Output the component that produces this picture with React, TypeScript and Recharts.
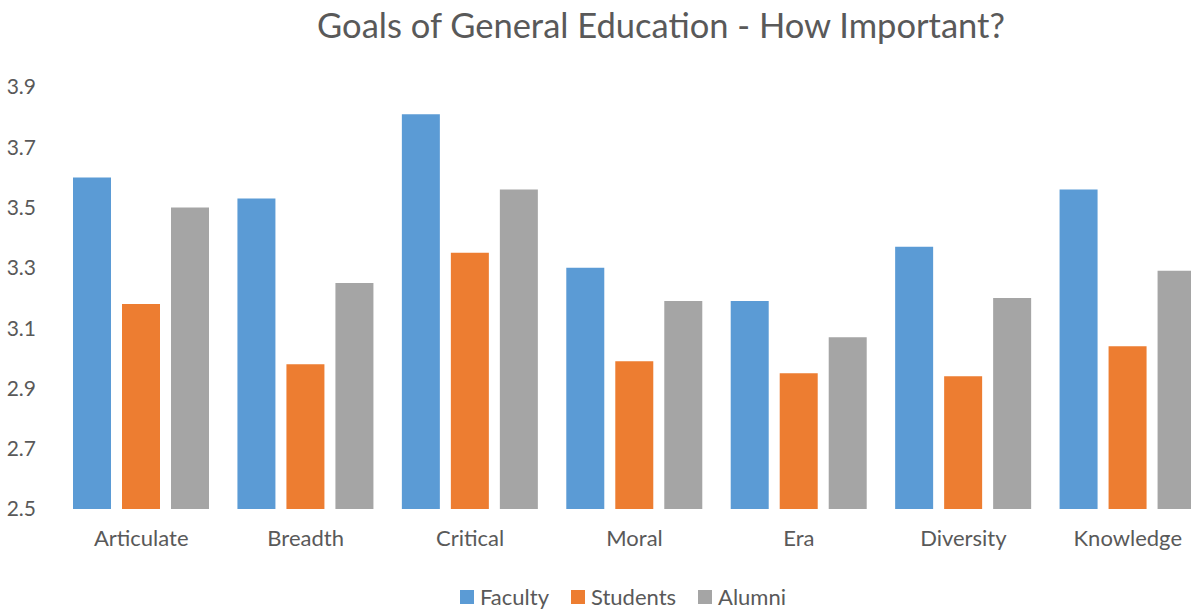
import { Bar, BarChart, XAxis, YAxis, Legend } from "recharts"

const goals = ["Articulate", "Breadth", "Critical", "Moral", "Era", "Diversity", "Knowledge"]
const faculty = [3.6, 3.53, 3.81, 3.3, 3.19, 3.37, 3.56]
const students = [3.18, 2.98, 3.35, 2.99, 2.95, 2.94, 3.04]
const alumni = [3.5, 3.25, 3.56, 3.19, 3.07, 3.2, 3.29]
const yTicks = [2.5, 2.7, 2.9, 3.1, 3.3, 3.5, 3.7, 3.9]

const series = [
  { key: "Faculty", color: "#5B9BD5" },
  { key: "Students", color: "#ED7D31" },
  { key: "Alumni", color: "#A5A5A5" },
]

const data = goals.map((name, i) => ({
  name,
  Faculty: faculty[i],
  Students: students[i],
  Alumni: alumni[i],
}))

const font = "Lato, 'Open Sans', sans-serif"
const grey = "#595959"

function LegendBox() {
  return (
    <div style={{ display: "flex", justifyContent: "center", alignItems: "center", fontSize: 22, fontFamily: font, color: grey }}>
      {series.map((s, i) => (
        <span key={s.key} style={{ display: "flex", alignItems: "center", marginRight: i < series.length - 1 ? 22 : 0 }}>
          <span style={{ width: 14, height: 14, background: s.color, display: "inline-block", marginRight: 6 }} />
          {s.key}
        </span>
      ))}
    </div>
  )
}

export default function App() {
  return (
    <div style={{ position: "absolute", left: 0, top: 0, width: 1191, height: 609, overflow: "hidden", background: "#fff", fontFamily: font }}>
      <div style={{ position: "absolute", left: 0, top: 4, width: 1322, textAlign: "center", fontSize: 34.5, color: grey }}>
        Goals of General Education - How Important?
      </div>
      <BarChart
        width={1212}
        height={609}
        data={data}
        margin={{ top: 87, right: 2, left: 0, bottom: 0 }}
        barSize={38}
        barGap={11}
      >
        <YAxis
          domain={[2.5, 3.9]}
          ticks={yTicks}
          width={59}
          axisLine={false}
          tickLine={false}
          tickMargin={17}
          tick={{ fill: grey, fontSize: 21, fontFamily: font }}
          tickFormatter={(v) => v.toFixed(1)}
        />
        <XAxis
          dataKey="name"
          height={70}
          axisLine={false}
          tickLine={false}
          tickMargin={15}
          tick={{ fill: grey, fontSize: 22, fontFamily: font }}
        />
        <Legend
          height={30}
          content={() => <LegendBox />}
          wrapperStyle={{ left: 0, width: 1246, bottom: -4 }}
        />
        {series.map((s) => (
          <Bar key={s.key} dataKey={s.key} fill={s.color} isAnimationActive={false} />
        ))}
      </BarChart>
    </div>
  )
}
